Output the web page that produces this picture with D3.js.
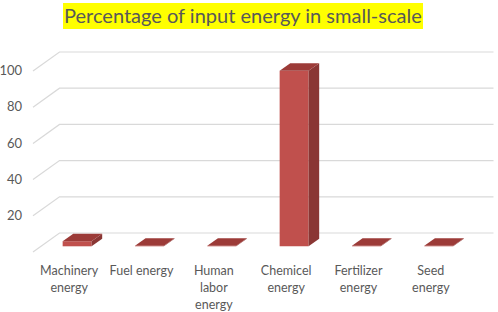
<!DOCTYPE html>
<html>
<head>
<meta charset="utf-8">
<script src="https://cdn.jsdelivr.net/npm/d3@7"></script>
<style>
  body { margin: 0; background: #fff; }
  text { font-family: Lato, "Open Sans", sans-serif; fill: #595959; }
</style>
</head>
<body>
<svg id="chart" width="498" height="312"></svg>
<script>
// data
const categories = ["Machinery energy", "Fuel energy", "Human labor energy", "Chemicel energy", "Fertilizer energy", "Seed energy"];
const labelLines = [["Machinery", "energy"], ["Fuel energy"], ["Human", "labor", "energy"], ["Chemicel", "energy"], ["Fertilizer", "energy"], ["Seed", "energy"]];
const values = [2.8, 0.3, 0.3, 97, 0.3, 0.3];
const gridTicks = [0, 20, 40, 60, 80, 100];
const tickLabels = ["", "20", "40", "60", "80", "100"];
const title = "Percentage of input energy in small-scale";

const svg = d3.select("#chart");

// oblique 3D frame: front plane + depth offset
const front = { left: 33, right: 467 };
const depth = { dx: 26.5, dy: -19 };

const x = d3.scaleBand()
    .domain(categories)
    .range([front.left, front.right]);

const y = d3.scaleLinear()
    .domain([0, 100])
    .range([252, 71]);

// project (x, value, z) where z in [0,1] is depth
const P = (px, v, z) => [px + z * depth.dx, y(v) + z * depth.dy];

// --- gridlines: side wall diagonals + back wall lines ---
const grid = svg.append("g")
    .attr("stroke", "#d9d9d9")
    .attr("stroke-width", 1.2)
    .attr("fill", "none");

grid.selectAll("path")
    .data(gridTicks)
    .join("path")
    .attr("d", d => {
        const a = P(front.left, d, 0);
        const b = P(front.left, d, 1);
        const c = P(front.right, d, 1);
        return `M${a}L${b}L${c}`;
    });

// --- y tick labels ---
svg.append("g")
    .selectAll("text")
    .data(gridTicks)
    .join("text")
    .attr("x", front.left - 11)
    .attr("y", d => y(d) + 1)
    .attr("text-anchor", "end")
    .attr("dominant-baseline", "middle")
    .attr("font-size", 13)
    .text((d, i) => tickLabels[i]);

// --- bars ---
const barW = x.bandwidth() / 2.5;
const z0 = 0.3, z1 = 0.7;

const bars = svg.append("g")
    .selectAll("g")
    .data(categories.map((c, i) => ({ c, v: values[i] })))
    .join("g");

const poly = pts => "M" + pts.map(p => p.join(",")).join("L") + "Z";

// front face
bars.append("path")
    .attr("fill", "#c0504d")
    .attr("d", d => {
        const l = x(d.c) + (x.bandwidth() - barW) / 2, r = l + barW;
        return poly([P(l, 0, z0), P(r, 0, z0), P(r, d.v, z0), P(l, d.v, z0)]);
    });

// right side face
bars.append("path")
    .attr("fill", "#8a3634")
    .attr("d", d => {
        const r = x(d.c) + (x.bandwidth() + barW) / 2;
        return poly([P(r, 0, z0), P(r, 0, z1), P(r, d.v, z1), P(r, d.v, z0)]);
    });

// top face
bars.append("path")
    .attr("fill", "#9c3b38")
    .attr("d", d => {
        const l = x(d.c) + (x.bandwidth() - barW) / 2, r = l + barW;
        return poly([P(l, d.v, z0), P(r, d.v, z0), P(r, d.v, z1), P(l, d.v, z1)]);
    });

// --- category labels ---
const labels = svg.append("g")
    .selectAll("text")
    .data(categories)
    .join("text")
    .attr("text-anchor", "middle")
    .attr("font-size", 12.5)
    .attr("transform", d => `translate(${x(d) + x.bandwidth() / 2}, 275)`);

labels.selectAll("tspan")
    .data((d, i) => labelLines[i])
    .join("tspan")
    .attr("x", 0)
    .attr("dy", (d, i) => i === 0 ? 0 : 17)
    .text(d => d);

// --- title with yellow highlight ---
const titleG = svg.append("g");
const bg = titleG.append("rect").attr("fill", "#ffff00");
const t = titleG.append("text")
    .attr("x", 64)
    .attr("y", 23)
    .attr("font-size", 19)
    .text(title);

// fit title to the highlighted width in the reference
const w = t.node().getComputedTextLength();
t.attr("font-size", 19 * 358 / w);
bg.attr("x", 63).attr("y", 3).attr("width", 360).attr("height", 26);
</script>
</body>
</html>
